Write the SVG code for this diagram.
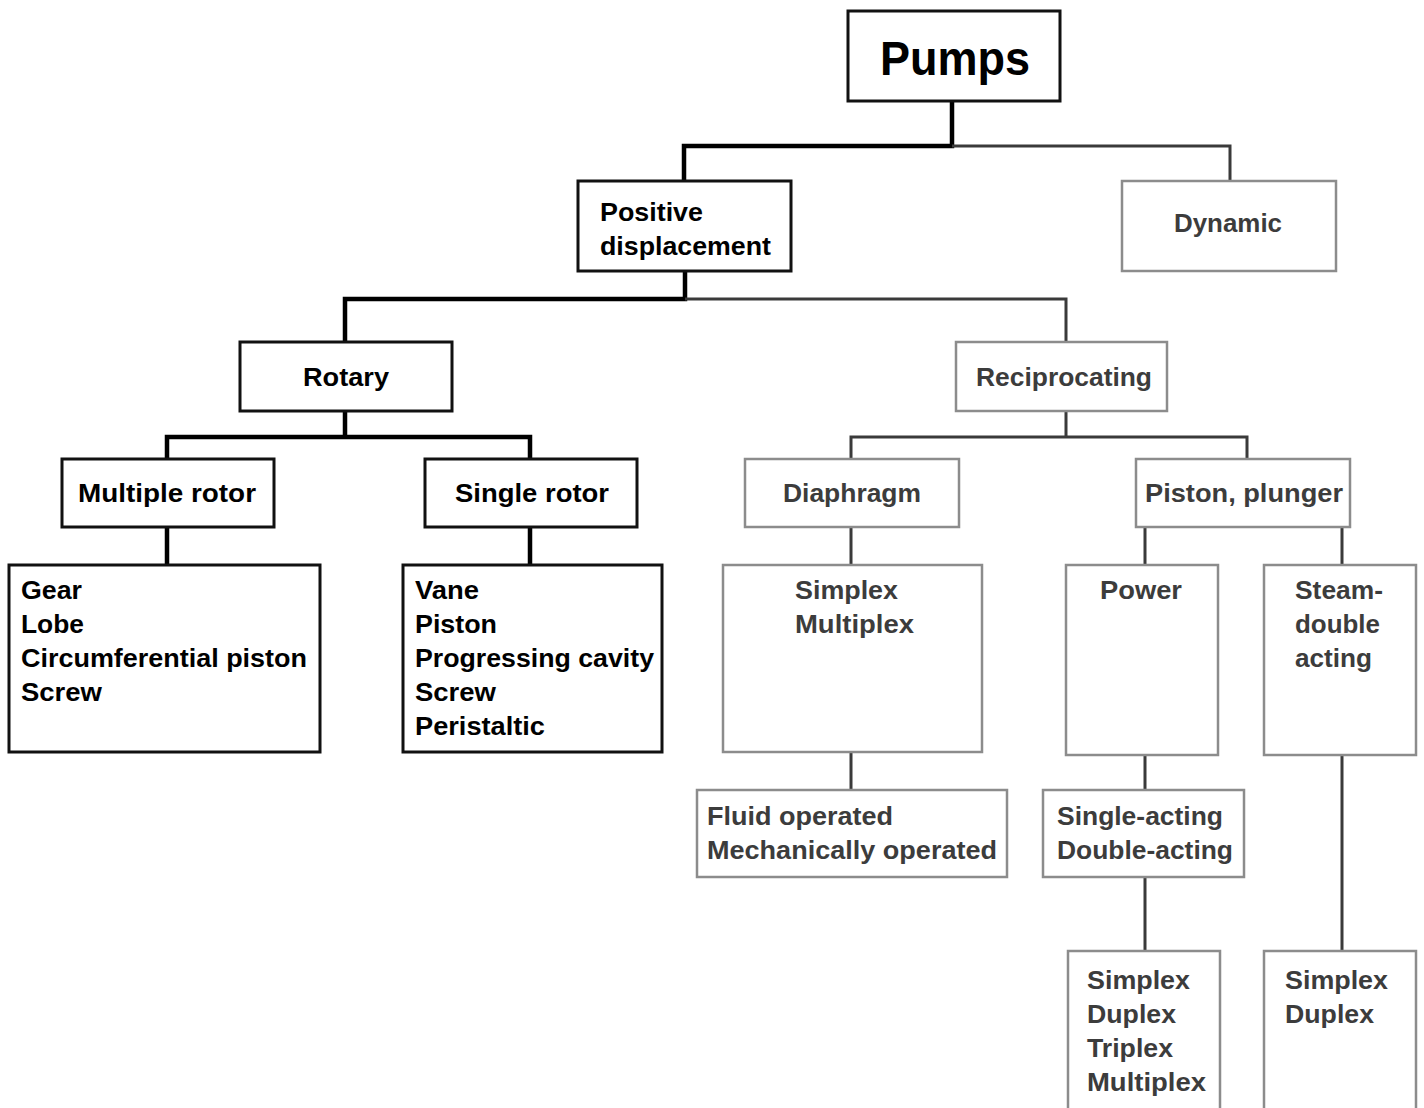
<svg xmlns="http://www.w3.org/2000/svg" width="1424" height="1108" viewBox="0 0 1424 1108">
<style>
.b{fill:#fff;stroke:#111;stroke-width:3}
.g{fill:#fff;stroke:#8c8c8c;stroke-width:2.5}
.tb{font-family:"Liberation Sans",Arial,sans-serif;font-weight:bold;font-size:25px;fill:#000}
.tg{font-family:"Liberation Sans",Arial,sans-serif;font-weight:bold;font-size:25px;fill:#3c3c3c}
.c{text-anchor:middle}
.big{font-size:48px}
.lb{fill:none;stroke:#000;stroke-width:4.5}
.lg{fill:none;stroke:#3a3a3a;stroke-width:3}
</style>
<rect width="1424" height="1108" fill="#fff"/>
<g id="connectors">
<path class="lb" d="M952 101V146H684V181"/>
<path class="lg" d="M952 146H1230V181"/>
<path class="lb" d="M685 271V299H345V342"/>
<path class="lg" d="M685 299H1066V342"/>
<path class="lb" d="M345 411V437M167 459V437H530V459"/>
<path class="lb" d="M167 527V565M530 527V565"/>
<path class="lg" d="M1066 411V437M851 459V437H1247V459"/>
<path class="lg" d="M851 527V565M1145 527V565M1342 527V565"/>
<path class="lg" d="M851 752V790M1145 755V790M1145 877V951M1342 755V951"/>
</g>
<g id="pumps"><rect class="b" x="848" y="11" width="212" height="90"/><text class="tb c big" x="955" y="75" textLength="150" lengthAdjust="spacingAndGlyphs">Pumps</text></g>
<g id="positive"><rect class="b" x="578" y="181" width="213" height="90"/><text class="tb" x="600" y="221" textLength="103" lengthAdjust="spacingAndGlyphs">Positive</text><text class="tb" x="600" y="255" textLength="171" lengthAdjust="spacingAndGlyphs">displacement</text></g>
<g id="dynamic"><rect class="g" x="1122" y="181" width="214" height="90"/><text class="tg c" x="1228" y="232" textLength="108" lengthAdjust="spacingAndGlyphs">Dynamic</text></g>
<g id="rotary"><rect class="b" x="240" y="342" width="212" height="69"/><text class="tb c" x="346" y="386" textLength="86" lengthAdjust="spacingAndGlyphs">Rotary</text></g>
<g id="reciprocating"><rect class="g" x="956" y="342" width="211" height="69"/><text class="tg c" x="1064" y="386" textLength="176" lengthAdjust="spacingAndGlyphs">Reciprocating</text></g>
<g id="multiple-rotor"><rect class="b" x="62" y="459" width="212" height="68"/><text class="tb c" x="167" y="502" textLength="178" lengthAdjust="spacingAndGlyphs">Multiple rotor</text></g>
<g id="single-rotor"><rect class="b" x="425" y="459" width="212" height="68"/><text class="tb c" x="532" y="502" textLength="154" lengthAdjust="spacingAndGlyphs">Single rotor</text></g>
<g id="diaphragm"><rect class="g" x="745" y="459" width="214" height="68"/><text class="tg c" x="852" y="502" textLength="138" lengthAdjust="spacingAndGlyphs">Diaphragm</text></g>
<g id="piston-plunger"><rect class="g" x="1136" y="459" width="214" height="68"/><text class="tg c" x="1244" y="502" textLength="198" lengthAdjust="spacingAndGlyphs">Piston, plunger</text></g>
<g id="multiple-list"><rect class="b" x="9" y="565" width="311" height="187"/>
<text class="tb" x="21" y="599" textLength="61" lengthAdjust="spacingAndGlyphs">Gear</text>
<text class="tb" x="21" y="633" textLength="63" lengthAdjust="spacingAndGlyphs">Lobe</text>
<text class="tb" x="21" y="667" textLength="286" lengthAdjust="spacingAndGlyphs">Circumferential piston</text>
<text class="tb" x="21" y="701" textLength="81" lengthAdjust="spacingAndGlyphs">Screw</text></g>
<g id="single-list"><rect class="b" x="403" y="565" width="259" height="187"/>
<text class="tb" x="415" y="599" textLength="64" lengthAdjust="spacingAndGlyphs">Vane</text>
<text class="tb" x="415" y="633" textLength="82" lengthAdjust="spacingAndGlyphs">Piston</text>
<text class="tb" x="415" y="667" textLength="239" lengthAdjust="spacingAndGlyphs">Progressing cavity</text>
<text class="tb" x="415" y="701" textLength="81" lengthAdjust="spacingAndGlyphs">Screw</text>
<text class="tb" x="415" y="735" textLength="130" lengthAdjust="spacingAndGlyphs">Peristaltic</text></g>
<g id="diaphragm-list"><rect class="g" x="723" y="565" width="259" height="187"/>
<text class="tg" x="795" y="599" textLength="103" lengthAdjust="spacingAndGlyphs">Simplex</text>
<text class="tg" x="795" y="633" textLength="119" lengthAdjust="spacingAndGlyphs">Multiplex</text></g>
<g id="power"><rect class="g" x="1066" y="565" width="152" height="190"/><text class="tg c" x="1141" y="599" textLength="82" lengthAdjust="spacingAndGlyphs">Power</text></g>
<g id="steam"><rect class="g" x="1264" y="565" width="152" height="190"/>
<text class="tg" x="1295" y="599" textLength="88" lengthAdjust="spacingAndGlyphs">Steam-</text>
<text class="tg" x="1295" y="633" textLength="85" lengthAdjust="spacingAndGlyphs">double</text>
<text class="tg" x="1295" y="667" textLength="77" lengthAdjust="spacingAndGlyphs">acting</text></g>
<g id="operated"><rect class="g" x="697" y="790" width="310" height="87"/>
<text class="tg" x="707" y="825" textLength="186" lengthAdjust="spacingAndGlyphs">Fluid operated</text>
<text class="tg" x="707" y="859" textLength="290" lengthAdjust="spacingAndGlyphs">Mechanically operated</text></g>
<g id="acting"><rect class="g" x="1043" y="790" width="201" height="87"/>
<text class="tg" x="1057" y="825" textLength="166" lengthAdjust="spacingAndGlyphs">Single-acting</text>
<text class="tg" x="1057" y="859" textLength="176" lengthAdjust="spacingAndGlyphs">Double-acting</text></g>
<g id="power-list"><path class="g" d="M1068 1110V951H1220V1110"/>
<text class="tg" x="1087" y="989" textLength="103" lengthAdjust="spacingAndGlyphs">Simplex</text>
<text class="tg" x="1087" y="1023" textLength="89" lengthAdjust="spacingAndGlyphs">Duplex</text>
<text class="tg" x="1087" y="1057" textLength="86" lengthAdjust="spacingAndGlyphs">Triplex</text>
<text class="tg" x="1087" y="1091" textLength="119" lengthAdjust="spacingAndGlyphs">Multiplex</text></g>
<g id="steam-list"><path class="g" d="M1264 1110V951H1416V1110"/>
<text class="tg" x="1285" y="989" textLength="103" lengthAdjust="spacingAndGlyphs">Simplex</text>
<text class="tg" x="1285" y="1023" textLength="89" lengthAdjust="spacingAndGlyphs">Duplex</text></g>
</svg>
